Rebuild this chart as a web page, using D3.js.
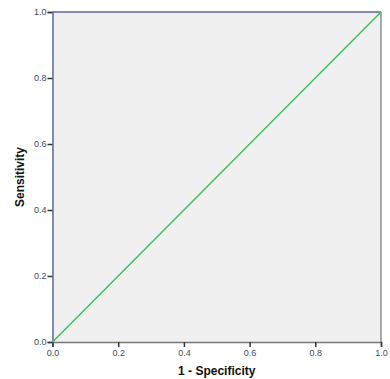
<!DOCTYPE html>
<html>
<head>
<meta charset="utf-8">
<script src="https://cdn.jsdelivr.net/npm/d3@7"></script>
<style>
  body { margin: 0; background: #fff; }
  svg { display: block; }
</style>
</head>
<body>
<div id="chart"></div>
<script>
// reference line data (1 - specificity, sensitivity)
const fpr = [0, 1];
const tpr = [0, 1];
const tickValues = [0, 0.2, 0.4, 0.6, 0.8, 1.0];
const xTitle = "1 - Specificity";
const yTitle = "Sensitivity";

const width = 390, height = 379;
const margin = {top: 12, right: 9, bottom: 37, left: 52.5};
const innerWidth = width - margin.left - margin.right,
  innerHeight = height - margin.top - margin.bottom;

const svg = d3.select("#chart").append("svg")
  .attr("width", width)
  .attr("height", height);

const x = d3.scaleLinear().domain([0, 1]).range([0, innerWidth]);
const y = d3.scaleLinear().domain([0, 1]).range([innerHeight, 0]);

const g = svg.append("g")
  .attr("transform", `translate(${margin.left},${margin.top})`);

// plot background
g.append("rect")
  .attr("width", innerWidth)
  .attr("height", innerHeight)
  .style("fill", "#f0f0f0");

// right and bottom frame (grey)
g.append("line")
  .attr("x1", innerWidth).attr("x2", innerWidth)
  .attr("y1", 0).attr("y2", innerHeight)
  .style("stroke", "#777").style("stroke-width", 1.2);

// axes
const fmt = d3.format(".1f");
const xAxis = g.append("g")
  .attr("transform", `translate(0,${innerHeight})`)
  .call(d3.axisBottom(x).tickValues(tickValues).tickFormat(fmt).tickSize(5).tickPadding(3));
const yAxis = g.append("g")
  .call(d3.axisLeft(y).tickValues(tickValues).tickFormat(fmt).tickSize(5).tickPadding(1));

xAxis.select(".domain").style("stroke", "#777").style("stroke-width", 1.5);
yAxis.select(".domain").style("stroke", "#5b6a99").style("stroke-width", 1.5);
[xAxis, yAxis].forEach(a => {
  a.selectAll(".tick line").style("stroke", "#333").style("stroke-width", 1.5);
  a.selectAll(".tick text")
    .style("font-family", "Arial, 'Liberation Sans', sans-serif")
    .style("font-size", "9px")
    .style("fill", "#444a5a");
});

// top frame (blue-ish)
g.append("line")
  .attr("x1", 0).attr("x2", innerWidth)
  .attr("y1", 0).attr("y2", 0)
  .style("stroke", "#5b6a99").style("stroke-width", 1.5);

// diagonal line
const line = d3.line()
  .x((d, i) => x(fpr[i]))
  .y((d, i) => y(tpr[i]));
g.append("path")
  .datum(fpr)
  .attr("d", line)
  .style("fill", "none")
  .style("stroke", "#3cc35a")
  .style("stroke-width", 1.5);

// axis titles
svg.append("text")
  .text(xTitle)
  .attr("x", margin.left + innerWidth / 2)
  .attr("y", 375)
  .attr("text-anchor", "middle")
  .style("font-family", "Arial, 'Liberation Sans', sans-serif")
  .style("font-size", "12px")
  .style("font-weight", "bold")
  .style("fill", "#111");

svg.append("text")
  .text(yTitle)
  .attr("transform", `translate(24,${margin.top + innerHeight / 2}) rotate(-90)`)
  .attr("text-anchor", "middle")
  .style("font-family", "Arial, 'Liberation Sans', sans-serif")
  .style("font-size", "12px")
  .style("font-weight", "bold")
  .style("fill", "#111");
</script>
</body>
</html>
